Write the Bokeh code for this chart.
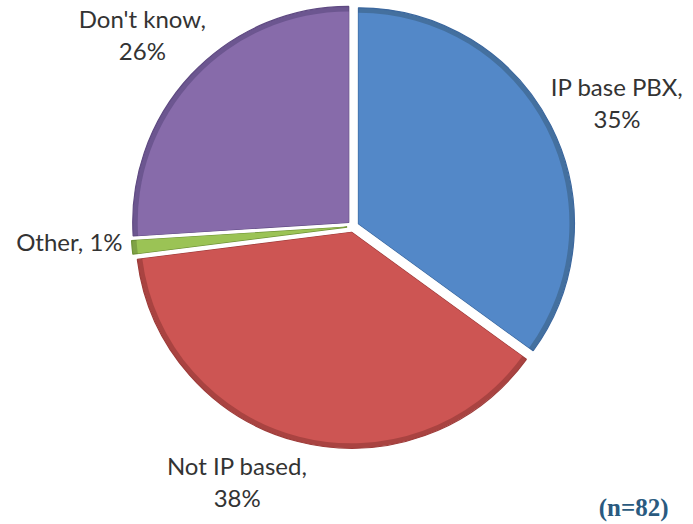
import math
from bokeh.plotting import figure
from bokeh.models import Range1d, ColumnDataSource, Label
from bokeh.core.properties import value
from bokeh.embed import file_html
from bokeh.resources import INLINE

# ---- data ----
categories = ["IP base PBX", "Not IP based", "Other", "Don't know"]
percent = [35, 38, 1, 26]
colors = ["#5388C8", "#CD5553", "#9BC355", "#876BAA"]
rim_colors = ["#44709F", "#A94341", "#7FA245", "#6C5690"]
edge_colors = ["#3B679E", "#9E3C3A", "#6F9238", "#5F4A82"]
sample_note = "(n=82)"

# ---- layout ----
W, H = 693, 524
CX, CY, R = 352.6, 298.0, 216.0
EXPLODE = 6.0
RIM = 5.0
LABEL_R = 285.0
label_nudge = [(10, -5), (-45, 21), (0, 12), (-3, -3)]

p = figure(width=W, height=H, output_backend="svg", toolbar_location=None,
           x_range=Range1d(0, W), y_range=Range1d(0, H), min_border=0)
p.axis.visible = False
p.grid.visible = False
p.outline_line_color = None
p.background_fill_color = "white"
p.border_fill_color = "white"

total = float(sum(percent))
xs, ys, starts, ends, lx, ly, ltxt = [], [], [], [], [], [], []
cum = 0.0
for i, (cat, v) in enumerate(zip(categories, percent)):
    a0 = math.pi / 2 - 2 * math.pi * cum / total
    cum += v
    a1 = math.pi / 2 - 2 * math.pi * cum / total
    m = (a0 + a1) / 2
    xs.append(CX + EXPLODE * math.cos(m))
    ys.append(CY + EXPLODE * math.sin(m))
    starts.append(a0)
    ends.append(a1)
    dx, dy = label_nudge[i]
    lx.append(CX + LABEL_R * math.cos(m) + dx)
    ly.append(CY + LABEL_R * math.sin(m) + dy)
    if v < 5:
        ltxt.append(f"{cat}, {v}%")
    else:
        ltxt.append(f"{cat},\n{v}%")

src = ColumnDataSource(dict(x=xs, y=ys, start=starts, end=ends,
                            color=colors, rim=rim_colors, edge=edge_colors,
                            lx=lx, ly=ly, label=ltxt))

# outer wedge (darker bevel rim)
p.wedge(x="x", y="y", radius=R, start_angle="start", end_angle="end",
        direction="clock", fill_color="rim", line_color="edge",
        line_width=1.2, source=src)
# inner face
p.wedge(x="x", y="y", radius=R - RIM, start_angle="start", end_angle="end",
        direction="clock", fill_color="color", line_color=None, source=src)

p.text(x="lx", y="ly", text="label", source=src,
       text_font=value("Lato"), text_font_size="24px", text_color="#333333",
       text_align="center", text_baseline="middle", text_line_height=1.1)

note = Label(x=668, y=17, text=sample_note, text_font="Liberation Serif",
             text_font_style="bold", text_font_size="25px", text_color="#2A5A80",
             text_align="right", text_baseline="middle")
p.add_layout(note)

open("out.html", "w").write(file_html(p, INLINE))
